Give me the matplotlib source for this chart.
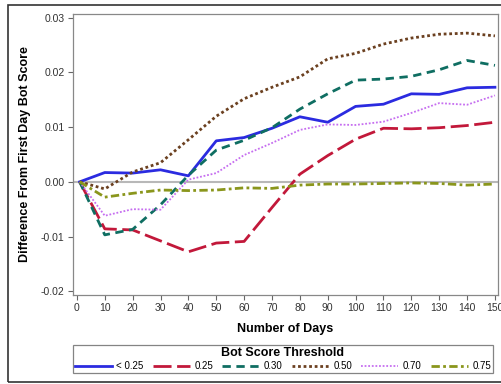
import matplotlib
matplotlib.use("Agg")
import matplotlib.pyplot as plt
from matplotlib.patches import Rectangle

plt.rcParams['font.family'] = ['Liberation Sans', 'DejaVu Sans']

# data
days = [1, 10, 20, 30, 40, 50, 60, 70, 80, 90, 100, 110, 120, 130, 140, 150]
lt_025 = [0, 0.0017, 0.0016, 0.0022, 0.0011, 0.0075, 0.0081, 0.0098, 0.0119, 0.0109,
          0.0138, 0.0142, 0.0161, 0.0160, 0.0172, 0.0173]
t_025 = [0, -0.0086, -0.0088, -0.0108, -0.0128, -0.0112, -0.0109, -0.0047, 0.0014, 0.0048,
         0.0078, 0.0098, 0.0097, 0.0099, 0.0103, 0.0109]
t_030 = [0, -0.0097, -0.0087, -0.0042, 0.0012, 0.0058, 0.0076, 0.0099, 0.0133, 0.0161,
         0.0186, 0.0188, 0.0193, 0.0205, 0.0222, 0.0213]
t_050 = [0, -0.0013, 0.0018, 0.0035, 0.0077, 0.0120, 0.0152, 0.0173, 0.0192, 0.0225,
         0.0235, 0.0252, 0.0263, 0.0270, 0.0272, 0.0267]
t_070 = [0, -0.0062, -0.0050, -0.0051, 0.0004, 0.0016, 0.0049, 0.0071, 0.0095, 0.0105,
         0.0104, 0.0110, 0.0126, 0.0144, 0.0141, 0.0158]
t_075 = [0, -0.0028, -0.0021, -0.0015, -0.0016, -0.0015, -0.0011, -0.0012, -0.0006, -0.0004,
         -0.0004, -0.0003, -0.0002, -0.0003, -0.0006, -0.0004]

labels = ['< 0.25', '0.25', '0.30', '0.50', '0.70', '0.75']
xticks = list(range(0, 151, 10))
yticks = [-0.02, -0.01, 0.00, 0.01, 0.02, 0.03]

fig = plt.figure(figsize=(5.01, 3.84), dpi=100)
ax = fig.add_axes([73 / 501, 1 - 295 / 384, 425 / 501, 281 / 384])

# outer frame round the whole graph (right side runs off the picture)
fig.patches.append(Rectangle((8 / 501, 2 / 384), 1.05 - 8 / 501, 377 / 384,
                             transform=fig.transFigure, fill=False,
                             edgecolor='#333333', linewidth=1.2, clip_on=False))

ax.axhline(0, color='#b8b8b8', linewidth=1.5, zorder=1)

ax.plot(days, lt_025, color='#2b2be0', linewidth=2.0, linestyle='-', label=labels[0])
ax.plot(days, t_025, color='#c2183a', linewidth=2.0, linestyle=(0, (6.5, 2)), label=labels[1])
ax.plot(days, t_030, color='#0f6e62', linewidth=2.0, linestyle=(0, (3, 2)), label=labels[2])
ax.plot(days, t_050, color='#6b4020', linewidth=2.0, linestyle=(0, (1, 1)), label=labels[3])
ax.plot(days, t_070, color='#c66ef0', linewidth=1.3, linestyle=(0, (1, 1)), label=labels[4])
ax.plot(days, t_075, color='#8a961c', linewidth=2.0, linestyle=(0, (3, 1.2, 1, 1.2)), label=labels[5])

ax.set_xlim(-1.4, 151.1)
ax.set_ylim(-0.0207, 0.0307)
ax.set_xticks(xticks)
ax.set_yticks(yticks)
ax.set_yticklabels(['-0.02', '-0.01', '0.00', '0.01', '0.02', '0.03'])
ax.tick_params(labelsize=7.5, color='#666666', labelcolor='#333333', length=3.5, width=0.8, pad=2.5)
for s in ax.spines.values():
    s.set_color('#888888')
    s.set_linewidth(0.9)

ax.set_xlabel('Number of Days', fontsize=9, fontweight='bold', labelpad=7)
ax.set_ylabel('Difference From First Day Bot Score', fontsize=9, fontweight='bold', labelpad=7)

# legend box stretched to the width it has in the reference
leg = fig.legend(loc='lower left', bbox_to_anchor=(73 / 501, 11 / 384, 420 / 501, 30 / 384),
                 mode='expand', ncol=6, fontsize=7, title='Bot Score Threshold',
                 title_fontproperties={'weight': 'bold', 'size': 9},
                 handlelength=3.8, handletextpad=0.45,
                 frameon=True, fancybox=False, edgecolor='#666666',
                 borderpad=0.2, labelspacing=0.2, borderaxespad=0)
leg.get_frame().set_linewidth(0.9)

fig.savefig('out.png', dpi=100)
